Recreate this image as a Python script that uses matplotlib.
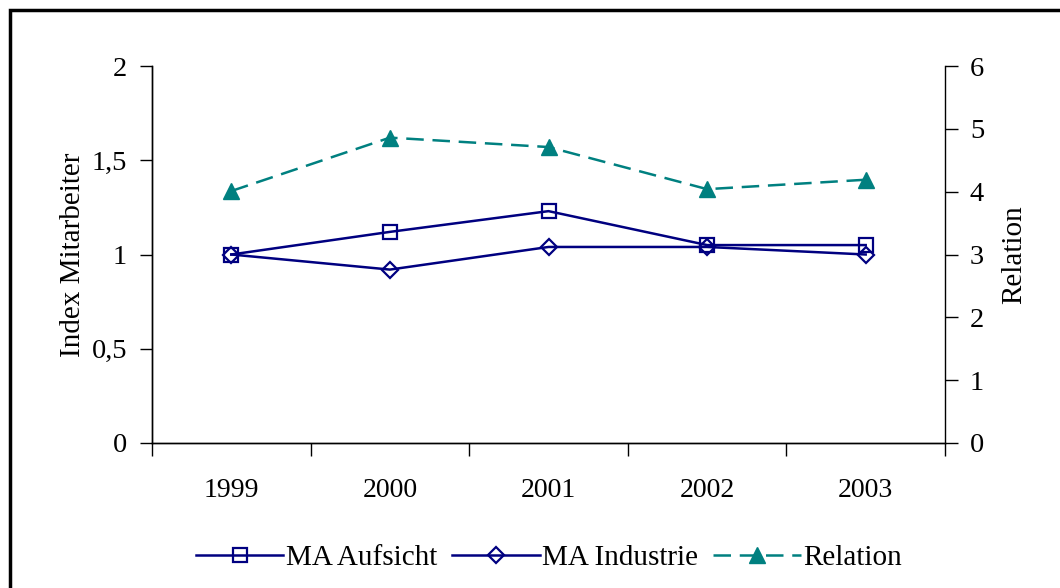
#!/usr/bin/env python3
"""Index Mitarbeiter (MA Aufsicht / MA Industrie) with Relation on a second axis."""

import matplotlib
matplotlib.use("Agg")
import matplotlib.pyplot as plt
from matplotlib.patches import Rectangle

years = ["1999", "2000", "2001", "2002", "2003"]
ma_aufsicht = [1.00, 1.12, 1.23, 1.05, 1.05]
ma_industrie = [1.00, 0.92, 1.04, 1.04, 1.00]
relation = [4.01, 4.86, 4.71, 4.04, 4.19]

left_ticks = [0, 0.5, 1, 1.5, 2]
left_labels = ["0", "0,5", "1", "1,5", "2"]
right_ticks = [0, 1, 2, 3, 4, 5, 6]

NAVY = "#000080"
TEAL = "#008080"

plt.rcParams["font.family"] = ["Liberation Serif", "DejaVu Serif"]
plt.rcParams["font.size"] = 21

fig = plt.figure(figsize=(10.6, 5.88), dpi=100)
W, H = 1060, 588
ax = fig.add_axes([152 / W, 1 - 443 / H, (945 - 152) / W, (443 - 66) / H])
ax2 = ax.twinx()

# outer chart frame (right and bottom edges fall outside the image)
fig.patches.append(Rectangle((9.5 / W, -0.1), 1.2, 1 - 9.5 / H + 0.1,
                             transform=fig.transFigure, fill=False,
                             edgecolor="black", lw=2.5, zorder=0))

x = list(range(len(years)))
l1, = ax.plot(x, ma_aufsicht, color=NAVY, lw=1.8, marker="s", ms=9.5,
              mfc="none", mec=NAVY, mew=1.6, label="MA Aufsicht")
l2, = ax.plot(x, ma_industrie, color=NAVY, lw=1.8, marker="D", ms=8.5,
              mfc="none", mec=NAVY, mew=1.6, label="MA Industrie")
l3, = ax2.plot(x, relation, color=TEAL, lw=1.8, ls=(0, (7, 3.5)), marker="^",
               ms=12, mfc=TEAL, mec=TEAL, label="Relation")

ax.set_xlim(-0.5, len(years) - 0.5)
ax.set_ylim(0, 2)
ax2.set_ylim(0, 6)

ax.set_yticks(left_ticks)
ax.set_yticklabels(left_labels)
ax2.set_yticks(right_ticks)

# category labels centred, tick marks on the category boundaries
ax.set_xticks(x)
ax.set_xticklabels(years)
ax.set_xticks([i - 0.5 for i in range(len(years) + 1)], minor=True)
ax.tick_params(axis="x", which="major", length=0, pad=25, labelsize=20)
ax.tick_params(axis="x", which="minor", length=9, width=1, direction="out")
ax.tick_params(axis="y", length=9, width=1, direction="out", pad=9, labelsize=20.5)
ax2.tick_params(axis="y", length=9, width=1, direction="out", pad=9, labelsize=20.5)

for a in (ax, ax2):
    for s in a.spines.values():
        s.set_linewidth(1)
    a.spines["top"].set_visible(False)
ax.spines["right"].set_visible(False)

ax.set_ylabel("Index Mitarbeiter", labelpad=4)
ax2.set_ylabel("Relation", labelpad=12)

fig.legend([l1, l2, l3], ["MA Aufsicht", "MA Industrie", "Relation"],
           loc="center", bbox_to_anchor=(549 / W, 1 - 558 / H), ncol=3,
           frameon=False, handlelength=3.0, handletextpad=0.1,
           columnspacing=0.5, fontsize=21)

fig.savefig("out.png", dpi=100, facecolor="white")
